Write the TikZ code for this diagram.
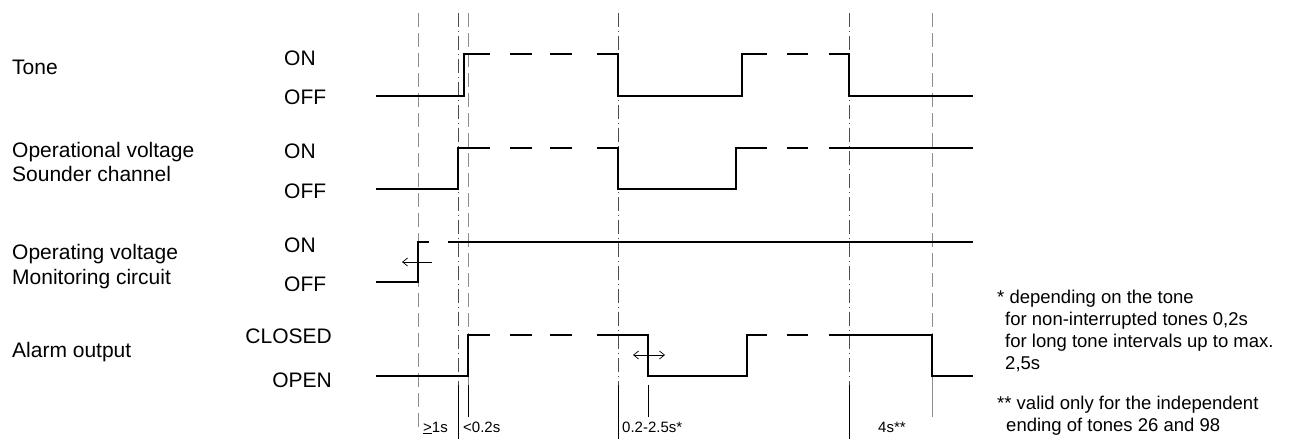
\documentclass[tikz,border=0pt]{standalone}
\usepackage{fontspec}
\setmainfont{Liberation Sans}
\usetikzlibrary{arrows.meta}
\tikzset{
  sig/.style={line width=2.4pt, line cap=butt, line join=miter},
  vgrey/.style={draw=black!45, line width=0.9pt, dash pattern=on 14pt off 6pt},
  vdark/.style={draw=black!70, line width=0.9pt, dash pattern=on 14pt off 4pt on 1pt off 4pt},
  tick/.style={draw=black, line width=0.8pt},
  tickgrey/.style={draw=black!45, line width=0.9pt},
  lbl/.style={inner sep=0pt, font=\fontsize{21}{24}\selectfont},
  small/.style={inner sep=0pt, font=\fontsize{15}{18}\selectfont},
  note/.style={inner sep=0pt, font=\fontsize{18.5}{22}\selectfont},
  thinarrow/.style={line width=0.7pt, -{Straight Barb[length=5pt,width=8pt]}},
  thinboth/.style={line width=0.7pt, {Straight Barb[length=5pt,width=8pt]}-{Straight Barb[length=5pt,width=8pt]}}
}
\begin{document}
\begin{tikzpicture}[x=1pt,y=-1pt]
\useasboundingbox (0,0) rectangle (1292,439);
\fill[white] (0,0) rectangle (1292,439);

% vertical reference lines
\coordinate (v1t) at (418,13); \coordinate (v1b) at (418,432);
\draw[vgrey] (v1t) -- (v1b);
\coordinate (v2t) at (458,13); \coordinate (v2m) at (458,385); \coordinate (v2b) at (458,439);
\draw[vdark] (v2t) -- (v2m); \draw[tick] (v2m) -- (v2b);
\coordinate (v3t) at (468,13); \coordinate (v3m) at (468,385); \coordinate (v3b) at (468,417);
\draw[vgrey] (v3t) -- (v3m); \draw[tick] (v3m) -- (v3b);
\coordinate (v4t) at (618,13); \coordinate (v4m) at (618,385); \coordinate (v4b) at (618,439);
\draw[vdark] (v4t) -- (v4m); \draw[tick] (v4m) -- (v4b);
\coordinate (v5t) at (648,385); \coordinate (v5b) at (648,417);
\draw[tick] (v5t) -- (v5b);
\coordinate (v6t) at (849,13); \coordinate (v6m) at (849,385); \coordinate (v6b) at (849,439);
\draw[vdark] (v6t) -- (v6m); \draw[tick] (v6m) -- (v6b);
\coordinate (v7t) at (932,13); \coordinate (v7m) at (932,385); \coordinate (v7b) at (932,417);
\draw[vgrey] (v7t) -- (v7m); \draw[tickgrey] (v7m) -- (v7b);

% left labels
\node[lbl, anchor=base west] (tone) at (12,74) {Tone};
\node[lbl, anchor=base west] (opv1) at (12,157) {Operational voltage};
\node[lbl, anchor=base west] (opv2) at (12,181) {Sounder channel};
\node[lbl, anchor=base west] (opg1) at (12,259) {Operating voltage};
\node[lbl, anchor=base west] (opg2) at (12,284) {Monitoring circuit};
\node[lbl, anchor=base west] (alarm) at (12,357) {Alarm output};

% state labels
\node[lbl, anchor=base west] (on1) at (284,65) {ON};
\node[lbl, anchor=base west] (off1) at (284,104) {OFF};
\node[lbl, anchor=base west] (on2) at (284,158) {ON};
\node[lbl, anchor=base west] (off2) at (284,198) {OFF};
\node[lbl, anchor=base west] (on3) at (284,252) {ON};
\node[lbl, anchor=base west] (off3) at (284,291) {OFF};
\node[lbl, anchor=base east] (closed) at (332,343) {CLOSED};
\node[lbl, anchor=base east] (open) at (332,387) {OPEN};

% Tone
\draw[sig] (376,96) -- (464,96) -- (464,54) -- (490,54);
\draw[sig] (510,54) -- (532,54);
\draw[sig] (550,54) -- (572,54);
\draw[sig] (597,54) -- (618,54) -- (618,96) -- (742,96) -- (742,54) -- (767,54);
\draw[sig] (787,54) -- (808,54);
\draw[sig] (829,54) -- (849,54) -- (849,96) -- (973,96);

% Sounder channel
\draw[sig] (376,189) -- (458,189) -- (458,148) -- (490,148);
\draw[sig] (510,148) -- (532,148);
\draw[sig] (550,148) -- (572,148);
\draw[sig] (597,148) -- (618,148) -- (618,189) -- (736,189) -- (736,148) -- (767,148);
\draw[sig] (787,148) -- (808,148);
\draw[sig] (829,148) -- (973,148);

% Monitoring circuit
\draw[sig] (376,282) -- (418,282) -- (418,242) -- (429,242);
\draw[sig] (448,242) -- (973,242);
\coordinate (a1s) at (432,262); \coordinate (a1e) at (402,262);
\draw[thinarrow] (a1s) -- (a1e);

% Alarm output
\draw[sig] (376,376) -- (468,376) -- (468,335) -- (490,335);
\draw[sig] (510,335) -- (532,335);
\draw[sig] (550,335) -- (572,335);
\draw[sig] (597,335) -- (648,335) -- (648,376) -- (747,376) -- (747,335) -- (767,335);
\draw[sig] (787,335) -- (808,335);
\draw[sig] (829,335) -- (932,335) -- (932,376) -- (973,376);
\coordinate (a2s) at (633,355); \coordinate (a2e) at (665,355);
\draw[thinboth] (a2s) -- (a2e);

% bottom time labels
\node[small, anchor=base west] (t1) at (423,432) {\underline{>}1s};
\node[small, anchor=base west] (t2) at (463,432) {<0.2s};
\node[small, anchor=base west] (t3) at (622,432) {0.2-2.5s*};
\node[small, anchor=base west] (t4) at (878,432) {4s**};

% footnotes
\node[note, anchor=base west] (n1) at (997,303) {* depending on the tone};
\node[note, anchor=base west] (n2) at (1005,325) {for non-interrupted tones 0,2s};
\node[note, anchor=base west] (n3) at (1005,347) {for long tone intervals up to max.};
\node[note, anchor=base west] (n4) at (1005,369) {2,5s};
\node[note, anchor=base west] (n5) at (997,409) {** valid only for the independent};
\node[note, anchor=base west] (n6) at (1006,431) {ending of tones 26 and 98};
\end{tikzpicture}
\end{document}
